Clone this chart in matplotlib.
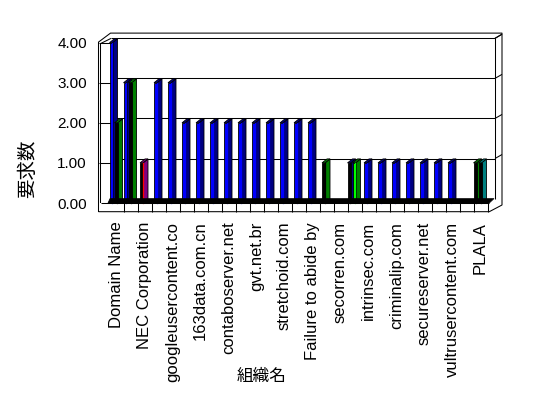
import matplotlib.pyplot as plt
from matplotlib.patches import Polygon, Rectangle

plt.rcParams['font.family'] = ['Liberation Sans', 'Noto Sans CJK JP']

# 27 organisations, only every other name fits under the axis
labels = ["Domain Name", "NEC Corporation", "googleusercontent.co", "163data.com.cn",
          "contaboserver.net", "gvt.net.br", "stretchoid.com", "Failure to abide by",
          "secorren.com", "intrinsec.com", "criminalip.com", "secureserver.net",
          "vultrusercontent.com", "PLALA"]
n_cat = 27

# request counts per series
blue   = [4, 3, 0, 3, 3, 2, 2, 2, 2, 2, 2, 2, 2, 2, 2, 0, 0, 0, 1, 1, 1, 1, 1, 1, 1, 0, 0]
navy   = [0, 0, 0, 0, 0, 0, 0, 0, 0, 0, 0, 0, 0, 0, 0, 0, 0, 1, 0, 0, 0, 0, 0, 0, 0, 0, 0]
purple = [0, 0, 1, 0, 0, 0, 0, 0, 0, 0, 0, 0, 0, 0, 0, 0, 0, 0, 0, 0, 0, 0, 0, 0, 0, 0, 0]
green  = [2, 3, 0, 0, 0, 0, 0, 0, 0, 0, 0, 0, 0, 0, 0, 1, 0, 0, 0, 0, 0, 0, 0, 0, 0, 0, 1]
lime   = [0, 0, 0, 0, 0, 0, 0, 0, 0, 0, 0, 0, 0, 0, 0, 0, 0, 1, 0, 0, 0, 0, 0, 0, 0, 0, 0]
teal   = [0, 0, 0, 0, 0, 0, 0, 0, 0, 0, 0, 0, 0, 0, 0, 0, 0, 0, 0, 0, 0, 0, 0, 0, 0, 0, 1]
yticks = [0, 1, 2, 3, 4]

# (values, front face, front edge, side face)
series = [
    (blue,   "#0000ff", "#0000ff", "#000080"),
    (navy,   "#000000", "#000000", "#000080"),
    (purple, "#000000", "#ff0000", "#800080"),
    (green,  "#000000", "#000000", "#008000"),
    (lime,   "#00ff00", "#00ff00", "#008000"),
    (teal,   "#000000", "#000000", "#008080"),
]

# pixel geometry of the fake 3d box (image is 548x398)
W, H = 548, 398
X0_PX, Y0_PX = 110.3, 203.0   # category 0 left edge / value 0 on the front plane
SLOT_PX, UNIT_PX = 14.0, 40.1


def X(px):
    return (px - X0_PX) / SLOT_PX


def Y(py):
    return (Y0_PX - py) / UNIT_PX


def dx(px):
    return px / SLOT_PX


def dy(px):
    return px / UNIT_PX


fig = plt.figure(figsize=(W / 100, H / 100), dpi=100)
ax = fig.add_axes([100 / W, 1 - 203 / H, 389.3 / W, (203 - 42.7) / H])
ax.set_xlim(X(100), X(489.3))
ax.set_ylim(0, 4)
for s in ax.spines.values():
    s.set_visible(False)
ax.patch.set_visible(False)

lw = 0.75
kw = dict(color="black", lw=lw, clip_on=False, solid_capstyle="butt")

# back wall gridlines + side wall ticks + right wall edges
back_dx, back_dy = dx(10.5), dy(4.4)
for v in yticks[1:]:
    ax.plot([X(110.5), X(495)], [v + back_dy, v + back_dy], zorder=1, **kw)
    ax.plot([X(98.5), X(110.5)], [v, v], zorder=1, **kw)
    ax.plot([X(495), X(502)], [v + back_dy, v + back_dy + dy(4)], zorder=1, **kw)
ax.plot([X(495), X(495)], [back_dy, 4 + back_dy], zorder=1, **kw)

# bars
fw, sw, rise = dx(3), dx(5), dy(4)
for i in range(n_cat):
    present = [s for s in series if s[0][i] > 0]
    n = len(present)
    for j, (vals, front_c, edge_c, side_c) in enumerate(present):
        v = vals[i]
        x0 = i + dx(1.7 + 5 * (j - (n - 1) / 2))
        z = 2 + j
        ax.add_patch(Polygon([(x0 + fw, 0), (x0 + fw, v), (x0 + fw + sw, v + rise),
                              (x0 + fw + sw, 0)], closed=True, fc=side_c, ec="black",
                             lw=0.6, zorder=z, clip_on=False))
        ax.add_patch(Polygon([(x0, v), (x0 + fw, v), (x0 + fw + sw, v + rise),
                              (x0 + sw, v + rise)], closed=True, fc=side_c, ec="black",
                             lw=0.6, zorder=z, clip_on=False))
        ax.add_patch(Rectangle((x0, 0), fw, v, fc=front_c, ec="black", lw=0.6,
                               zorder=z, clip_on=False))
        ax.plot([x0 + fw - dx(0.5), x0 + fw - dx(0.5)], [0, v], color=edge_c, lw=0.9,
                zorder=z, clip_on=False)

# dark floor strip under the bars
ax.add_patch(Polygon([(X(108), 0), (X(489.3), 0), (X(494), back_dy), (X(110), back_dy)],
                     closed=True, fc="black", ec="black", lw=0.5, zorder=8, clip_on=False))

# outer frame of walls and floor slab
outer = [(98.5, 211.7), (98.5, 42), (110.5, 33), (502, 33), (502, 205),
         (489.3, 211.7), (98.5, 211.7)]
ax.plot([X(p[0]) for p in outer], [Y(p[1]) for p in outer], zorder=9, **kw)
ax.plot([X(100.5), X(100.5), X(111)], [Y(203), Y(43.5), Y(38.3)], zorder=9, **kw)
ax.plot([X(495), X(502)], [Y(38.3), Y(34)], zorder=9, **kw)
ax.plot([X(100.5), X(489.3)], [Y(203.3), Y(203.3)], zorder=9, **kw)
for k in range(1, n_cat + 1):
    ax.plot([k, k], [Y(203.3), Y(211.7)], zorder=9, **kw)

# ticks
ax.set_yticks(yticks, [f"{v:.2f}" for v in yticks], fontsize=11)
ax.set_xticks([i + 0.5 - dx(1) for i in range(0, n_cat, 2)], labels,
              rotation=90, fontsize=12)
ax.tick_params(axis="y", length=0, pad=9.4)
ax.tick_params(axis="x", length=0, pad=13.5)

fig.text(262 / W, 1 - 376 / H, "組織名", ha="center", va="center", fontsize=12)
fig.text(28 / W, 1 - 169 / H, "要求数", ha="center", va="center", rotation=90,
         fontsize=14)

fig.savefig("out.png", dpi=100)
